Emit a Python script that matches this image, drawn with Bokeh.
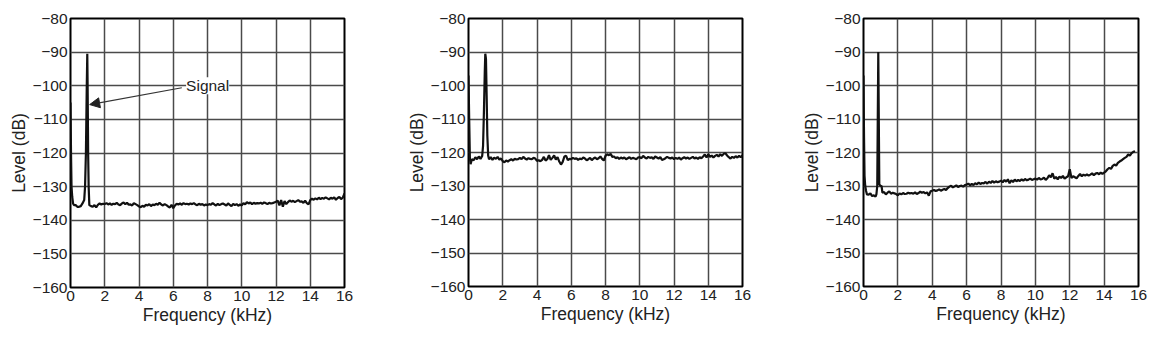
import numpy as np
from bokeh.plotting import figure
from bokeh.layouts import row
from bokeh.models import FixedTicker, Label, Arrow, NormalHead, Range1d
from bokeh.embed import file_html
from bokeh.resources import INLINE

# ---------------- data ----------------
x_ticks = [0, 2, 4, 6, 8, 10, 12, 14, 16]
y_ticks = [-160, -150, -140, -130, -120, -110, -100, -90, -80]

# Panel 1: low-frequency spike + 1 kHz signal, then noise floor (0.1 kHz steps from 1.2 kHz)
head1_f = [0.0, 0.03, 0.06, 0.1, 0.15, 0.2, 0.3, 0.4, 0.5, 0.6, 0.7, 0.8, 0.85, 0.9, 0.95, 0.98, 1.0, 1.03, 1.06, 1.1]
head1_l = [-105, -120, -130, -133, -135, -135.5, -135.5, -136, -136, -135.8, -135, -134, -130, -120, -100, -90.5, -100, -120, -130, -135.5]
noise1 = [
    -135.8, -136.0, -135.5, -136.2, -135.4, -135.0, -135.3, -135.1,
    -135.2, -134.9, -135.3, -135.0, -135.4, -135.1, -135.2, -134.8, -135.3, -135.5,
    -135.0, -134.7, -135.2, -134.8, -135.4, -135.3, -135.6, -134.9, -135.2, -135.5,
    -135.9, -136.1, -135.7, -136.0, -135.4, -135.6, -135.2, -135.8, -135.3, -135.5,
    -135.1, -135.4, -134.8, -135.3, -135.6, -135.2, -135.5, -135.9, -136.2, -135.4,
    -136.4, -135.6, -135.1, -135.3, -135.0, -135.4, -134.9, -135.2, -135.1, -135.3,
    -135.0, -135.2, -134.9, -135.3, -135.5, -135.1, -135.4, -135.2, -135.6, -135.3,
    -135.5, -135.2, -135.4, -134.9, -135.3, -135.6, -135.1, -135.5, -135.2, -135.0,
    -135.3, -135.6, -135.0, -135.4, -135.8, -135.1, -135.5, -135.2, -135.7, -135.3,
    -135.6, -134.9, -135.3, -134.6, -135.0, -134.7, -135.2, -134.8, -135.1, -134.9,
    -135.0, -134.8, -135.1, -134.7, -134.9, -135.2, -134.8, -135.0, -134.9, -134.7,
    -134.5, -134.2, -135.6, -134.0, -136.0, -134.3, -135.2, -134.6, -134.1, -134.5,
    -134.2, -134.6, -134.3, -134.0, -134.5, -134.4, -134.8, -134.2, -134.9, -135.3,
    -134.0, -133.6, -133.9, -133.5, -133.8, -133.3, -133.7, -133.4, -133.6, -133.2,
    -133.5, -133.8, -133.3, -133.6, -133.2, -133.9, -133.4, -133.1, -133.7, -133.3, -132.0,
]

# Panel 2
head2_f = [0.0, 0.04, 0.08, 0.12, 0.2, 0.3, 0.4, 0.5, 0.6, 0.7, 0.8, 0.85, 0.9, 0.95, 0.98, 1.02, 1.06, 1.1, 1.15,
           1.2, 1.3, 1.4, 1.5, 1.6, 1.7, 1.8, 1.9]
head2_l = [-97, -110, -121.5, -123.5, -122.0, -122.3, -121.4, -122.0, -121.2, -121.9, -121.0, -118, -108, -96, -90.5,
           -92, -103, -115, -121, -122, -121.4, -122.2, -121.5, -121.9, -121.3, -122.1, -121.8]
noise2 = [
    -122.6, -122.9, -122.4, -122.7, -122.3, -122.0, -122.4, -121.9, -122.1, -122.0,
    -121.6, -122.0, -121.3, -121.8, -122.1, -121.7, -121.9, -122.0, -121.6, -121.8,
    -122.5, -122.3, -122.6, -122.2, -121.3, -122.4, -122.0, -120.8, -122.2, -121.6,
    -120.9, -122.1, -121.4, -122.7, -123.6, -122.8, -121.2, -121.0, -122.3, -121.9,
    -122.0, -121.6, -121.9, -121.7, -122.2, -121.8, -122.0, -121.5, -121.8, -122.3,
    -122.0, -121.6, -122.3, -121.8, -121.5, -122.0, -121.7, -121.2, -121.9, -122.4,
    -121.0, -120.5, -120.8, -120.4, -121.3, -121.2, -121.7, -121.4, -121.9, -121.5,
    -121.8, -121.5, -122.0, -121.7, -121.4, -121.9, -121.6, -121.8, -122.0, -121.5,
    -121.4, -121.7, -121.0, -121.5, -121.8, -121.3, -121.6, -121.4, -121.9, -121.2,
    -121.5, -121.8, -121.4, -122.2, -122.0, -121.7, -121.3, -121.6, -121.8, -121.5,
    -122.0, -121.6, -121.9, -121.5, -122.1, -121.7, -121.4, -121.8, -121.5, -121.9,
    -121.6, -121.3, -121.8, -121.5, -121.9, -121.4, -121.7, -121.2, -120.6, -121.5,
    -120.5, -121.3, -120.9, -121.5, -121.0, -120.7, -121.2, -120.5, -121.0, -120.4,
    -120.2, -120.9, -121.4, -121.8, -121.3, -121.6, -121.1, -121.5, -121.0, -121.4, -120.8,
]

# Panel 3
head3_f = [0.0, 0.03, 0.06, 0.1, 0.15, 0.2, 0.3, 0.4, 0.5, 0.6, 0.7, 0.75, 0.8, 0.83, 0.86, 0.89, 0.92, 1.0, 1.05,
           1.1, 1.2, 1.3, 1.4, 1.5, 1.6, 1.7, 1.8, 1.9]
head3_l = [-97, -115, -127, -130, -131.5, -132.5, -132.6, -132.2, -133.0, -132.8, -133.2, -132.5, -130, -110, -90,
           -110, -129.5, -130, -130, -132, -131.8, -132.5, -132.0, -131.6, -132.3, -132.0, -132.2, -132.4]
noise3 = [
    -132.8, -132.2, -132.5, -132.1, -132.4, -132.3, -132.0, -132.2, -132.1, -132.3,
    -131.9, -132.4, -132.1, -131.7, -132.0, -131.8, -132.2, -131.9, -132.9, -131.6,
    -131.4, -131.2, -131.5, -131.3, -131.0, -131.4, -131.1, -130.9, -131.2, -130.6,
    -130.2, -129.9, -130.4, -130.1, -129.8, -130.3, -130.0, -129.9, -130.2, -129.7,
    -129.6, -129.3, -129.8, -129.4, -129.7, -129.2, -129.5, -129.0, -129.4, -129.1,
    -129.2, -128.8, -129.3, -128.7, -129.1, -128.5, -129.0, -128.6, -128.9, -128.7,
    -128.4, -128.9, -128.2, -128.7, -128.0, -129.2, -128.3, -128.8, -128.1, -128.6,
    -128.2, -128.5, -128.0, -128.4, -127.9, -128.3, -128.1, -127.8, -128.2, -128.0,
    -127.8, -128.1, -127.6, -128.0, -127.9, -127.5, -128.2, -127.7, -126.8, -127.4,
    -126.2, -127.8, -127.3, -128.0, -127.2, -127.6, -127.0, -127.8, -127.4, -127.1,
    -125.0, -127.6, -127.1, -127.4, -127.7, -127.0, -126.4, -127.1, -126.6, -126.9,
    -126.5, -126.9, -126.6, -126.2, -126.8, -126.3, -126.1, -126.5, -126.0, -126.4,
    -126.0, -125.6, -125.0, -124.6, -124.9, -124.0, -123.6, -123.9, -123.1, -122.7,
    -122.4, -122.0, -121.6, -121.3, -120.6, -120.9, -120.2, -119.8, -119.6,
]


def series(head_f, head_l, start, noise):
    f = list(head_f) + [round(start + 0.1 * i, 2) for i in range(len(noise))]
    return f, list(head_l) + list(noise)


f1, l1 = series(head1_f, head1_l, 1.2, noise1)
f2, l2 = series(head2_f, head2_l, 2.0, noise2)
f3, l3 = series(head3_f, head3_l, 2.0, noise3)

FONT = "Liberation Sans"
TXT = "#222222"


def make_fig(f, l, fw, fh, left, right, top, bottom):
    p = figure(frame_width=fw, frame_height=fh, min_border_left=left, min_border_right=right,
               min_border_top=top, min_border_bottom=bottom, output_backend="svg",
               toolbar_location=None, x_range=Range1d(0, 16), y_range=Range1d(-160, -80))
    p.outline_line_color = "black"
    p.outline_line_width = 2
    p.background_fill_color = "white"
    p.border_fill_color = "white"
    for ax in (p.xaxis[0], p.yaxis[0]):
        ax.axis_line_color = None
        ax.major_tick_line_color = None
        ax.minor_tick_line_color = None
        ax.major_tick_out = 0
        ax.major_tick_in = 0
        ax.minor_tick_out = 0
        ax.major_label_text_font = FONT
        ax.major_label_text_font_size = "15.5px"
        ax.major_label_text_color = TXT
        ax.axis_label_text_font = FONT
        ax.axis_label_text_font_size = "17.5px"
        ax.axis_label_text_font_style = "normal"
        ax.axis_label_text_color = TXT
        ax.major_label_standoff = 3
        ax.axis_label_standoff = 1
    p.xaxis.ticker = FixedTicker(ticks=x_ticks)
    p.yaxis.ticker = FixedTicker(ticks=y_ticks)
    p.yaxis.major_label_overrides = {v: "\u2212" + str(abs(v)) for v in y_ticks}
    p.xaxis.axis_label = "Frequency (kHz)"
    p.yaxis.axis_label = "Level (dB)"
    p.xgrid.ticker = FixedTicker(ticks=x_ticks)
    p.ygrid.ticker = FixedTicker(ticks=y_ticks)
    for g in (p.xgrid[0], p.ygrid[0]):
        g.grid_line_color = "#4a4a4a"
        g.grid_line_width = 1.5
    p.line(f, l, line_color="#111111", line_width=2.2)
    return p


p1 = make_fig(f1, l1, 274, 269, 70, 54, 18, 40)
p2 = make_fig(f2, l2, 274, 268, 70, 51, 18, 41)
p3 = make_fig(f3, l3, 275, 268, 70, 10, 16, 43)

lab = Label(x=6.75, y=-100, text="Signal", text_font=FONT, text_font_size="15.5px",
            text_color=TXT, text_baseline="middle", background_fill_color="white",
            x_offset=0, y_offset=0)
p1.add_layout(lab)
p1.add_layout(Arrow(end=NormalHead(size=10, fill_color="#222222", line_color="#222222"),
                    x_start=6.5, y_start=-100.6, x_end=1.12, y_end=-105.6,
                    line_color="#333333", line_width=1.2))

layout = row(p1, p2, p3)
open("out.html", "w").write(file_html(layout, INLINE))
